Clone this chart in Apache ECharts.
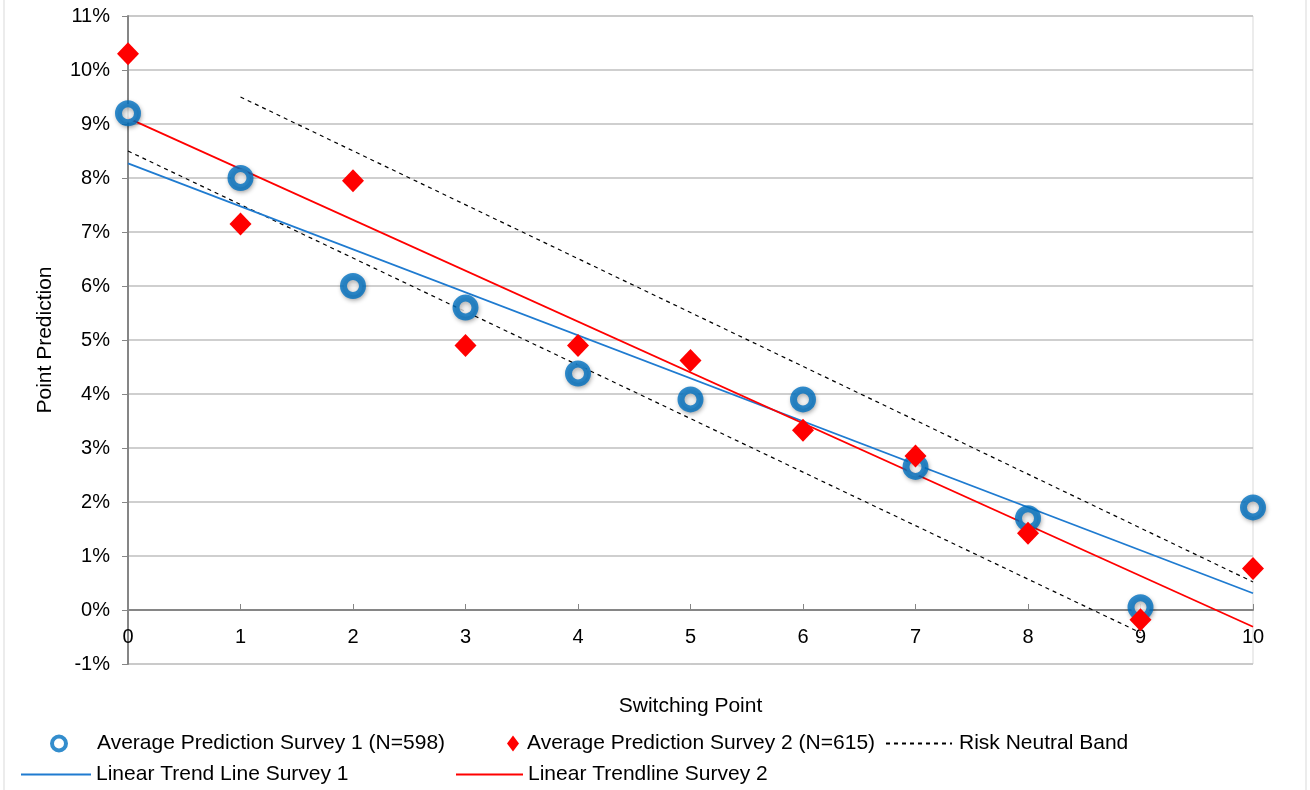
<!DOCTYPE html>
<html>
<head>
<meta charset="utf-8">
<script src="https://cdn.jsdelivr.net/npm/echarts@6/dist/echarts.min.js"></script>
<style>
html, body { margin: 0; padding: 0; background: #fff; }
#chart { width: 1310px; height: 790px; }
</style>
</head>
<body>
<div id="chart"></div>
<script>
// switching points 0..10
var switchPts = [0, 1, 2, 3, 4, 5, 6, 7, 8, 9, 10];
// average point predictions, in percent
var survey1 = [9.2, 8.0, 6.0, 5.6, 4.38, 3.9, 3.9, 2.65, 1.7, 0.05, 1.9];
var survey2 = [10.3, 7.15, 7.95, 4.9, 4.9, 4.62, 3.33, 2.85, 1.42, -0.18, 0.77];
// trend lines (end points)
var trend1 = [[0, 8.27], [10, 0.31]];
var trend2 = [[0, 9.11], [10, -0.31]];
// risk neutral band
var bandUpper = [[1, 9.5], [10, 0.52]];
var bandLower = [[0, 8.5], [9, -0.42]];

var fontName = 'Liberation Sans';
var blue = '#0070c0';
var red = '#ff0000';

function pairs(xs, ys) {
	var out = [];
	for (var i = 0; i < xs.length; i++) {
		out.push([xs[i], ys[i]]);
	}
	return out;
}

function legendText(padLeft) {
	return { fontFamily: fontName, fontSize: 21, color: '#000', padding: [0, 0, 0, padLeft] };
}

var myChart = echarts.init(document.getElementById('chart'));
var option = {
	animation: false,
	textStyle: { fontFamily: fontName },
	grid: {
		left: 128,
		right: 57,
		top: 16,
		bottom: 126,
		show: true,
		borderColor: '#d9d9d9',
		borderWidth: 1
	},
	graphic: [{
		type: 'rect',
		shape: { x: 4, y: -5, width: 1302, height: 810 },
		style: { fill: 'none', stroke: '#d9d9d9', lineWidth: 1 },
		silent: true
	}],
	xAxis: {
		type: 'value',
		min: 0,
		max: 10,
		interval: 1,
		name: 'Switching Point',
		nameLocation: 'middle',
		nameGap: 32,
		nameTextStyle: { fontSize: 21, color: '#000', fontFamily: fontName },
		axisLine: { onZero: true, lineStyle: { color: '#868686', width: 2 } },
		axisTick: { show: true, inside: true, length: 6, lineStyle: { color: '#868686' } },
		axisLabel: { fontSize: 20, color: '#000', margin: -37 },
		splitLine: { show: false }
	},
	yAxis: {
		type: 'value',
		min: -1,
		max: 11,
		interval: 1,
		name: 'Point Prediction',
		nameLocation: 'middle',
		nameGap: 72,
		nameTextStyle: { fontSize: 21, color: '#000', fontFamily: fontName },
		axisLine: { show: true, lineStyle: { color: '#868686', width: 2 } },
		axisTick: { show: true, length: 6, lineStyle: { color: '#868686' } },
		axisLabel: {
			fontSize: 20,
			color: '#000',
			margin: 18,
			formatter: function (v) { return v + '%'; }
		},
		splitLine: { show: true, lineStyle: { color: '#bfbfbf', width: 1.5 } }
	},
	legend: [{
		left: 50, top: 733, padding: 0, itemWidth: 14, itemHeight: 14,
		data: [{ name: 'Average Prediction Survey 1 (N=598)', icon: 'circle' }],
		itemStyle: { color: '#fff', borderColor: blue, borderWidth: 4 },
		textStyle: legendText(26)
	}, {
		left: 507, top: 733, padding: 0, itemWidth: 12, itemHeight: 16,
		data: [{ name: 'Average Prediction Survey 2 (N=615)', icon: 'diamond' }],
		textStyle: legendText(3)
	}, {
		left: 885, top: 733, padding: 0, itemWidth: 66, itemHeight: 14,
		data: ['Risk Neutral Band'],
		itemStyle: { opacity: 0 },
		textStyle: legendText(2)
	}, {
		left: 20, top: 764, padding: 0, itemWidth: 70, itemHeight: 14,
		data: ['Linear Trend Line Survey 1'],
		itemStyle: { opacity: 0 },
		textStyle: legendText(0)
	}, {
		left: 455, top: 764, padding: 0, itemWidth: 67, itemHeight: 14,
		data: ['Linear Trendline Survey 2'],
		itemStyle: { opacity: 0 },
		textStyle: legendText(0)
	}],
	series: [{
		name: 'Risk Neutral Band',
		type: 'line',
		data: bandUpper,
		symbol: 'none',
		lineStyle: { color: '#000', width: 1.2, type: [4, 4] },
		itemStyle: { color: '#000' },
		z: 3
	}, {
		name: 'Risk Neutral Band',
		type: 'line',
		data: bandLower,
		symbol: 'none',
		lineStyle: { color: '#000', width: 1.2, type: [4, 4] },
		itemStyle: { color: '#000' },
		z: 3
	}, {
		name: 'Linear Trend Line Survey 1',
		type: 'line',
		data: trend1,
		symbol: 'none',
		lineStyle: { color: '#1f7bd0', width: 1.8 },
		itemStyle: { color: '#1f7bd0' },
		z: 3
	}, {
		name: 'Linear Trendline Survey 2',
		type: 'line',
		data: trend2,
		symbol: 'none',
		lineStyle: { color: red, width: 1.8 },
		itemStyle: { color: red },
		z: 3
	}, {
		name: 'Average Prediction Survey 1 (N=598)',
		type: 'scatter',
		data: pairs(switchPts, survey1),
		symbol: 'circle',
		symbolSize: 19,
		itemStyle: {
			color: '#fff',
			borderColor: blue,
			borderWidth: 7,
			shadowColor: 'rgba(0,0,0,0.35)',
			shadowBlur: 4,
			shadowOffsetX: 1,
			shadowOffsetY: 2
		},
		z: 4
	}, {
		name: 'Average Prediction Survey 2 (N=615)',
		type: 'scatter',
		data: pairs(switchPts, survey2),
		symbol: 'diamond',
		symbolSize: [22, 23],
		itemStyle: { color: red, opacity: 1 },
		z: 5
	}]
};
myChart.setOption(option);
</script>
</body>
</html>
